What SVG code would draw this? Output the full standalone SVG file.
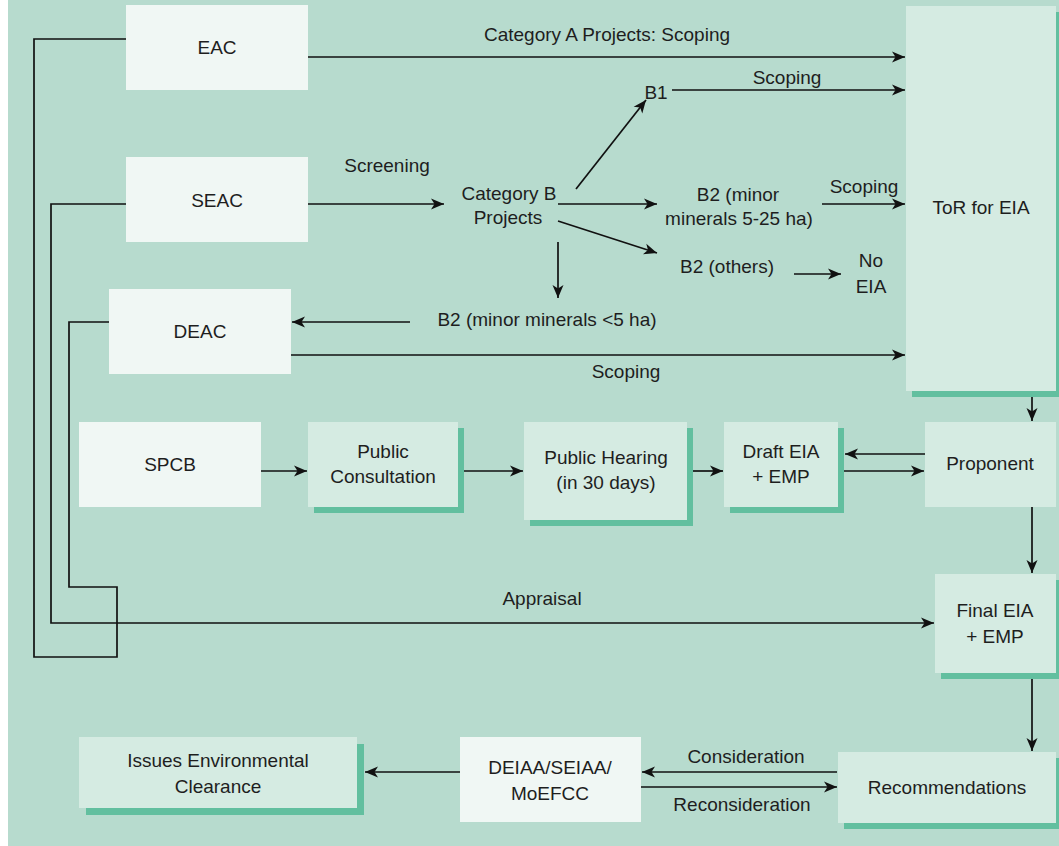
<svg xmlns="http://www.w3.org/2000/svg" width="1059" height="846" viewBox="0 0 1059 846">
<defs>
<style>
.bg{fill:#b7dbce}
.w{fill:#f0f7f4}
.l{fill:#d5ebe2}
.sh{fill:#62bf9f}
text{font-family:"Liberation Sans",Arial,sans-serif;font-size:19px;fill:#1e1e1e;text-anchor:middle}
.c line,.c path,.c polyline{stroke:#111;stroke-width:1.7;fill:none}
.a{marker-end:url(#ah)}
</style>
<marker id="ah" markerUnits="userSpaceOnUse" markerWidth="14" markerHeight="12" refX="13" refY="6" orient="auto">
<path d="M0,0.5 L13,6 L0,11.5 L3.5,6 z" fill="#111"/>
</marker>
</defs>
<rect class="bg" x="8" y="0" width="1051" height="846"/>

<g id="eac"><rect class="w" x="126" y="5" width="182" height="85"/><text x="217" y="54">EAC</text></g>
<g id="seac"><rect class="w" x="126" y="157" width="182" height="85"/><text x="217" y="207">SEAC</text></g>
<g id="deac"><rect class="w" x="109" y="289" width="182" height="85"/><text x="200" y="338">DEAC</text></g>
<g id="spcb"><rect class="w" x="79" y="422" width="182" height="85"/><text x="170" y="471">SPCB</text></g>

<g id="tor"><rect class="sh" x="912" y="12" width="150" height="385"/><rect class="l" x="906" y="6" width="150" height="385"/><text x="981" y="214">ToR for EIA</text></g>
<g id="pc"><rect class="sh" x="314" y="428" width="150" height="85"/><rect class="l" x="308" y="422" width="150" height="85"/><text x="383" y="458">Public</text><text x="383" y="483">Consultation</text></g>
<g id="ph"><rect class="sh" x="530" y="428" width="163" height="98"/><rect class="l" x="524" y="422" width="163" height="98"/><text x="606" y="464">Public Hearing</text><text x="606" y="489">(in 30 days)</text></g>
<g id="draft"><rect class="sh" x="730" y="428" width="114" height="85"/><rect class="l" x="724" y="422" width="114" height="85"/><text x="781" y="458">Draft EIA</text><text x="781" y="483">+ EMP</text></g>
<g id="proponent"><rect class="l" x="925" y="422" width="131" height="85"/><text x="990" y="470">Proponent</text></g>
<g id="final"><rect class="sh" x="941" y="580" width="121" height="99"/><rect class="l" x="935" y="574" width="121" height="99"/><text x="995" y="617">Final EIA</text><text x="995" y="643">+ EMP</text></g>
<g id="rec"><rect class="sh" x="844" y="758" width="218" height="71"/><rect class="l" x="838" y="752" width="218" height="71"/><text x="947" y="794">Recommendations</text></g>
<g id="deiaa"><rect class="w" x="460" y="737" width="181" height="85"/><text x="550" y="774">DEIAA/SEIAA/</text><text x="550" y="800">MoEFCC</text></g>
<g id="issues"><rect class="sh" x="86" y="744" width="278" height="71"/><rect class="l" x="79" y="737" width="278" height="71"/><text x="218" y="767">Issues Environmental</text><text x="218" y="793">Clearance</text></g>

<g id="labels">
<text x="607" y="41">Category A Projects: Scoping</text>
<text x="656" y="99">B1</text>
<text x="787" y="84">Scoping</text>
<text x="387" y="172">Screening</text>
<text x="509" y="200">Category B</text>
<text x="508" y="224">Projects</text>
<text x="738" y="201">B2 (minor</text>
<text x="739" y="225">minerals 5-25 ha)</text>
<text x="864" y="193">Scoping</text>
<text x="727" y="273">B2 (others)</text>
<text x="871" y="267">No</text>
<text x="871" y="293">EIA</text>
<text x="547" y="326">B2 (minor minerals &lt;5 ha)</text>
<text x="626" y="378">Scoping</text>
<text x="542" y="605">Appraisal</text>
<text x="746" y="763">Consideration</text>
<text x="742" y="811">Reconsideration</text>
</g>

<g id="connectors" class="c">
<line class="a" x1="308" y1="57" x2="905" y2="57"/>
<line class="a" x1="672" y1="90" x2="905" y2="90"/>
<line class="a" x1="308" y1="204" x2="444" y2="204"/>
<line class="a" x1="576" y1="189" x2="646" y2="100"/>
<line class="a" x1="558" y1="204" x2="657" y2="204"/>
<line class="a" x1="822" y1="204" x2="905" y2="204"/>
<line class="a" x1="558" y1="221" x2="657" y2="253"/>
<line class="a" x1="794" y1="274" x2="841" y2="274"/>
<line class="a" x1="558" y1="242" x2="558" y2="298"/>
<line class="a" x1="410" y1="322" x2="292" y2="322"/>
<line class="a" x1="291" y1="355" x2="905" y2="355"/>
<line class="a" x1="261" y1="471" x2="307" y2="471"/>
<line class="a" x1="464" y1="471" x2="523" y2="471"/>
<line class="a" x1="693" y1="471" x2="723" y2="471"/>
<line class="a" x1="925" y1="454" x2="845" y2="454"/>
<line class="a" x1="844" y1="471" x2="924" y2="471"/>
<line class="a" x1="1032" y1="397" x2="1032" y2="421"/>
<line class="a" x1="1032" y1="507" x2="1032" y2="573"/>
<line class="a" x1="1032" y1="679" x2="1032" y2="751"/>
<line class="a" x1="837" y1="772" x2="642" y2="772"/>
<line class="a" x1="641" y1="787" x2="837" y2="787"/>
<line class="a" x1="460" y1="772" x2="365" y2="772"/>
<polyline points="126,39 34,39 34,657 117,657 117,587 69,587 69,322 109,322"/>
<polyline class="a" points="126,204 51,204 51,623 934,623"/>
</g>
</svg>
